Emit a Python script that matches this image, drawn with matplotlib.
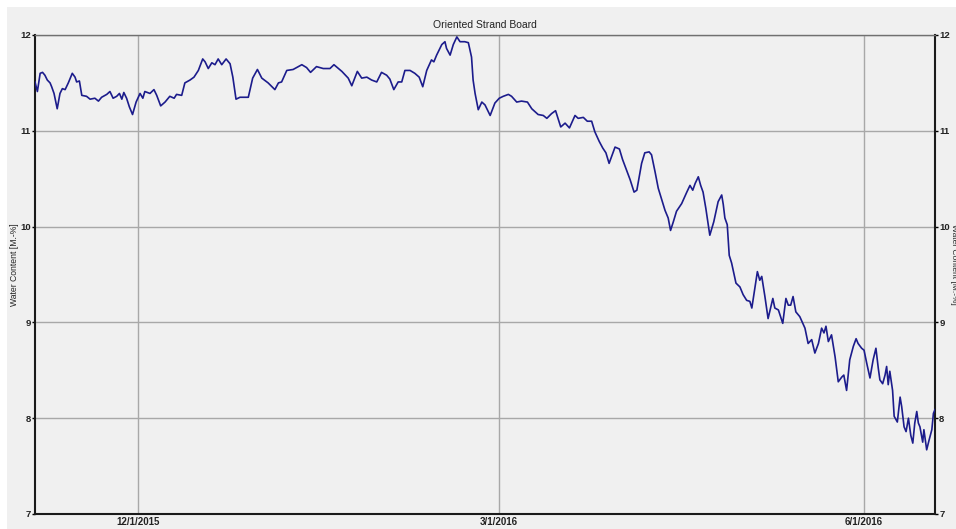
import matplotlib
matplotlib.use("Agg")
import matplotlib.pyplot as plt
import matplotlib.dates as mdates
from matplotlib.patches import Rectangle
import numpy as np
import pandas as pd

# ---- data ----
start_date = "2015-11-05"
end_date = "2016-06-19"
days = [0, 0.6, 1.3, 1.9, 2.5, 3.1, 3.8, 4.2, 4.8, 5.6, 6.3, 6.9, 7.6, 8.4, 9.4, 10.1, 10.5, 11.2, 11.8, 13.0,
        13.9, 15.1, 16.0, 16.8, 18.1, 18.9, 19.7, 20.6, 21.3, 21.9, 22.4, 23.1, 23.8, 24.6, 25.5, 26.5, 27.2, 27.7,
        29.0, 30.0, 30.7, 31.7, 32.8, 34.0, 35.1, 35.7, 37.0, 37.8, 39.1, 40.1, 41.2, 42.3, 42.9, 43.7, 44.6, 45.4,
        46.2, 47.1, 48.2, 49.2, 49.9, 50.7, 51.7, 53.8, 54.9, 56.1, 57.2, 58.8,
        60.5, 61.4, 62.2, 63.5, 65.1, 67.3, 68.5, 69.5, 71.0, 72.7, 74.4, 75.4, 77.4, 79.0, 79.9, 81.3, 82.4, 83.7,
        84.9, 86.2, 87.4, 88.7, 89.5, 90.5, 91.6, 92.5, 93.3, 94.6, 95.8, 96.9, 97.8, 98.8, 100.0, 100.6, 101.3,
        102.6, 103.4, 103.8, 104.7, 105.5, 106.4, 107.2, 108.4, 109.3, 110.1, 110.5, 111.0, 111.8, 112.7, 113.5,
        114.8, 116.0, 117.1,
        118.1, 119.4, 120.2, 121.5, 122.7, 124.2, 125.3, 126.9, 128.2, 129.1, 130.3, 131.3, 132.6, 133.7, 134.8,
        136.2, 137.0, 138.3, 139.3, 140.4, 141.2, 142.3, 143.2, 144.0, 144.8, 146.3, 147.4, 148.2, 149.2, 150.1,
        151.1, 151.8, 153.0, 153.8, 154.9, 155.5, 156.4, 157.2, 158.1, 158.9, 159.7, 160.3, 161.0, 161.8, 163.1,
        164.4, 165.2, 165.9, 166.5, 167.3, 167.9, 168.5, 169.2, 170.2, 171.2, 172.3, 173.2, 173.6, 174.0, 174.6,
        175.1,
        175.7, 176.8, 177.8, 178.6, 179.5, 180.3, 180.8, 182.2, 182.8, 183.3, 184.1, 184.9, 186.1, 186.6, 187.5,
        188.6, 189.4, 190.0, 190.6, 191.2, 191.9, 192.9, 194.2, 195.0, 195.9, 196.7, 197.6, 198.4, 199.0, 199.5,
        200.1, 200.9, 201.8, 202.6, 203.5, 204.0, 204.7, 205.5, 206.4, 207.1, 207.6, 208.5, 209.1, 209.8, 210.6,
        211.4, 212.1, 212.7, 213.1, 213.8, 214.4, 214.8, 215.2, 215.6, 216.3, 216.7, 217.5, 218.2, 218.6, 219.2,
        219.7, 220.3, 220.9, 221.4, 221.9, 222.4, 222.8, 223.2, 223.9, 224.2, 224.9, 225.5, 226.2, 226.6, 227.0]
water_content = [11.51, 11.41, 11.60, 11.61, 11.58, 11.53, 11.50, 11.46, 11.39, 11.23, 11.39, 11.44, 11.43, 11.50,
                 11.60, 11.56, 11.51, 11.52, 11.37, 11.36, 11.33, 11.34, 11.31, 11.35, 11.38, 11.41, 11.34, 11.36,
                 11.39, 11.33, 11.40, 11.34, 11.25, 11.17, 11.30, 11.39, 11.34, 11.41, 11.39, 11.43, 11.37, 11.26,
                 11.30, 11.36, 11.34, 11.38, 11.37, 11.50, 11.53, 11.56, 11.63, 11.75, 11.72, 11.65, 11.71, 11.69,
                 11.75, 11.69, 11.75, 11.70, 11.56, 11.33, 11.35, 11.35, 11.55, 11.64, 11.55, 11.50,
                 11.43, 11.50, 11.51, 11.63, 11.64, 11.69, 11.66, 11.61, 11.67, 11.65, 11.65, 11.69, 11.62, 11.55,
                 11.47, 11.62, 11.55, 11.56, 11.53, 11.51, 11.61, 11.58, 11.54, 11.43, 11.51, 11.51, 11.63, 11.63,
                 11.60, 11.56, 11.46, 11.63, 11.74, 11.72, 11.79, 11.90, 11.93, 11.86, 11.79, 11.90, 11.98, 11.93,
                 11.93, 11.92, 11.77, 11.53, 11.39, 11.22, 11.30, 11.27, 11.16, 11.29, 11.34,
                 11.36, 11.38, 11.36, 11.30, 11.31, 11.30, 11.23, 11.17, 11.16, 11.13, 11.18, 11.21, 11.04, 11.08,
                 11.03, 11.16, 11.13, 11.14, 11.10, 11.10, 10.99, 10.89, 10.82, 10.77, 10.66, 10.83, 10.81, 10.70,
                 10.59, 10.49, 10.36, 10.38, 10.66, 10.77, 10.78, 10.75, 10.57, 10.40, 10.28, 10.17, 10.09, 9.96,
                 10.05, 10.16, 10.24, 10.36, 10.43, 10.38, 10.45, 10.52, 10.43, 10.36, 10.19, 9.91, 10.05, 10.26,
                 10.33, 10.23, 10.09, 10.02, 9.70,
                 9.62, 9.41, 9.37, 9.29, 9.23, 9.22, 9.15, 9.53, 9.44, 9.48, 9.27, 9.04, 9.25, 9.15, 9.13, 8.99,
                 9.25, 9.18, 9.18, 9.27, 9.11, 9.06, 8.94, 8.78, 8.82, 8.68, 8.78, 8.94, 8.89, 8.96, 8.80, 8.87,
                 8.64, 8.38, 8.43, 8.45, 8.29, 8.61, 8.75, 8.83, 8.78, 8.73, 8.71, 8.57, 8.42, 8.61, 8.73, 8.52,
                 8.40, 8.36, 8.45, 8.54, 8.35, 8.49, 8.29, 8.02, 7.96, 8.22, 8.12, 7.91, 7.86, 8.00, 7.82, 7.74,
                 7.95, 8.07, 7.95, 7.91, 7.75, 7.88, 7.67, 7.77, 7.88, 8.05, 8.09]
x_ticks = ["2015-12-01", "2016-03-01", "2016-06-01"]
y_ticks = [7, 8, 9, 10, 11, 12]
title = "Oriented Strand Board"
y_label = "Water Content [M.-%]"

# ---- plot ----
t0 = pd.Timestamp(start_date)
times = t0 + pd.to_timedelta(np.array(days), unit="D")

fig = plt.figure(figsize=(9.56, 5.29), dpi=100, facecolor="#f0f0f0")
# white outer margin at top and left, as in the screenshot
fig.patches.append(Rectangle((0, 1 - 7 / 529), 1, 7 / 529, transform=fig.transFigure,
                             facecolor="white", edgecolor="none", zorder=0))
fig.patches.append(Rectangle((0, 0), 7 / 956, 1, transform=fig.transFigure,
                             facecolor="white", edgecolor="none", zorder=0))

ax = fig.add_axes([35 / 956, 1 - 514 / 529, 900 / 956, 479 / 529])
ax.set_facecolor("#f0f0f0")

ax.plot(times, water_content, color="#1c1c8c", lw=1.2, zorder=3)

ax.set_xlim(pd.Timestamp(start_date), pd.Timestamp(end_date))
ax.set_ylim(min(y_ticks), max(y_ticks))

ax.set_xticks([pd.Timestamp(d) for d in x_ticks])
ax.xaxis.set_major_formatter(plt.FuncFormatter(
    lambda v, p: (lambda d: f"{d.month}/{d.day}/{d.year}")(mdates.num2date(v))))
ax.set_yticks(y_ticks)

ax.grid(True, color="#a8a8a8", lw=1.0, zorder=1)
ax.tick_params(axis="x", length=0, pad=2, labelsize=7, labelcolor="#222222")
ax.tick_params(axis="y", length=2.5, width=1, pad=0.5, labelsize=6.8, labelcolor="#222222",
               left=True, right=True, labelleft=True, labelright=True, direction="out")
for lab in ax.get_yticklabels() + ax.get_xticklabels():
    lab.set_fontweight("bold")
    lab.set_family("Liberation Sans")

for side in ["left", "bottom", "right"]:
    ax.spines[side].set_color("#1a1a1a")
    ax.spines[side].set_linewidth(1.5)
ax.spines["top"].set_color("#707070")
ax.spines["top"].set_linewidth(1.0)

ax.set_title(title, fontsize=7.5, family="Liberation Sans", color="#222222", pad=5)
fig.text(15 / 956, 0.5, y_label, rotation=90, va="center", ha="center",
         fontsize=6.2, family="Liberation Sans", color="#222222")
fig.text(954 / 956, 0.5, y_label, rotation=-90, va="center", ha="center",
         fontsize=6.0, family="Liberation Sans", color="#222222")

fig.savefig("out.png", dpi=100, facecolor=fig.get_facecolor())
